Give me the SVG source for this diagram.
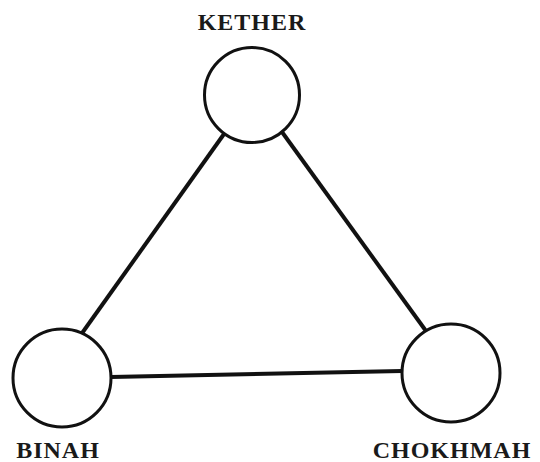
<svg xmlns="http://www.w3.org/2000/svg" width="540" height="462" viewBox="0 0 540 462">
<style>
.node circle{fill:#fff;stroke:#111;stroke-width:3}
.lbl{font-family:"Liberation Serif",serif;font-weight:bold;font-size:24px;fill:#1a1a1a;text-anchor:middle;letter-spacing:1px}
.edges line{stroke:#111;stroke-width:4;stroke-linecap:butt}
</style>
<rect width="540" height="462" fill="#fff"/>
<g class="edges" id="connectors">
<line x1="224" y1="134" x2="80" y2="336"/>
<line x1="282" y1="132" x2="426" y2="331"/>
<line x1="111" y1="377" x2="402" y2="371"/>
</g>
<g class="node" id="kether">
<circle cx="252" cy="95" r="47.5"/>
<text class="lbl" x="252" y="30">KETHER</text>
</g>
<g class="node" id="binah">
<circle cx="62" cy="378" r="49"/>
<text class="lbl" x="58" y="458">BINAH</text>
</g>
<g class="node" id="chokhmah">
<circle cx="451" cy="373" r="49"/>
<text class="lbl" x="452" y="458">CHOKHMAH</text>
</g>
</svg>
